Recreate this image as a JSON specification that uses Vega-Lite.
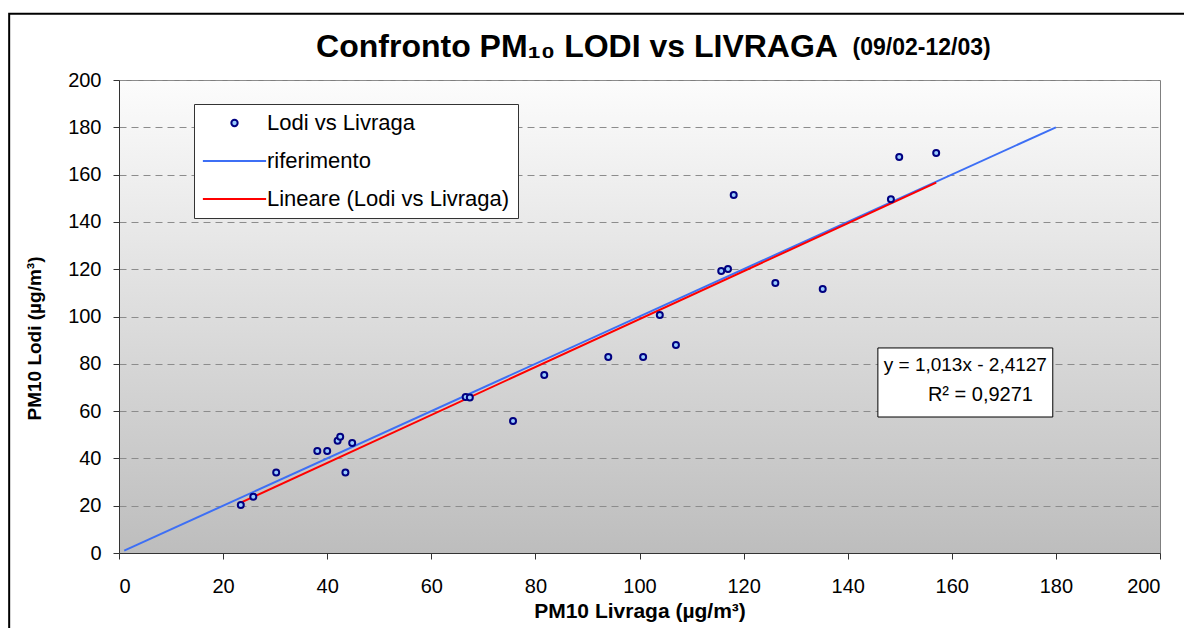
{
  "$schema": "https://vega.github.io/schema/vega-lite/v6.json",
  "width": 1041,
  "height": 473,
  "autosize": {"type": "none"},
  "padding": {"left": 119, "top": 80, "right": 24, "bottom": 75},
  "background": "white",
  "datasets": {
    "points": [
      {"livraga": 23.4, "lodi": 20.3, "series": "Lodi vs Livraga"},
      {"livraga": 25.8, "lodi": 23.8, "series": "Lodi vs Livraga"},
      {"livraga": 30.2, "lodi": 34.0, "series": "Lodi vs Livraga"},
      {"livraga": 38.1, "lodi": 43.1, "series": "Lodi vs Livraga"},
      {"livraga": 40.0, "lodi": 43.1, "series": "Lodi vs Livraga"},
      {"livraga": 42.0, "lodi": 47.5, "series": "Lodi vs Livraga"},
      {"livraga": 42.5, "lodi": 49.2, "series": "Lodi vs Livraga"},
      {"livraga": 44.8, "lodi": 46.5, "series": "Lodi vs Livraga"},
      {"livraga": 43.5, "lodi": 34.0, "series": "Lodi vs Livraga"},
      {"livraga": 66.6, "lodi": 66.0, "series": "Lodi vs Livraga"},
      {"livraga": 67.4, "lodi": 65.8, "series": "Lodi vs Livraga"},
      {"livraga": 75.7, "lodi": 55.8, "series": "Lodi vs Livraga"},
      {"livraga": 81.7, "lodi": 75.3, "series": "Lodi vs Livraga"},
      {"livraga": 94.0, "lodi": 82.9, "series": "Lodi vs Livraga"},
      {"livraga": 100.7, "lodi": 82.9, "series": "Lodi vs Livraga"},
      {"livraga": 103.9, "lodi": 100.6, "series": "Lodi vs Livraga"},
      {"livraga": 107.0, "lodi": 87.9, "series": "Lodi vs Livraga"},
      {"livraga": 115.7, "lodi": 119.2, "series": "Lodi vs Livraga"},
      {"livraga": 117.0, "lodi": 120.1, "series": "Lodi vs Livraga"},
      {"livraga": 118.1, "lodi": 151.4, "series": "Lodi vs Livraga"},
      {"livraga": 126.1, "lodi": 114.2, "series": "Lodi vs Livraga"},
      {"livraga": 135.2, "lodi": 111.6, "series": "Lodi vs Livraga"},
      {"livraga": 148.3, "lodi": 149.6, "series": "Lodi vs Livraga"},
      {"livraga": 149.9, "lodi": 167.4, "series": "Lodi vs Livraga"},
      {"livraga": 157.0, "lodi": 169.1, "series": "Lodi vs Livraga"}
    ],
    "reference": [
      {"livraga": 1, "lodi": 1, "series": "riferimento"},
      {"livraga": 180, "lodi": 180, "series": "riferimento"}
    ],
    "trend": [
      {"livraga": 23.4, "lodi": 21.29, "series": "Lineare (Lodi vs Livraga)"},
      {"livraga": 157.0, "lodi": 156.63, "series": "Lineare (Lodi vs Livraga)"}
    ]
  },
  "layer": [
    {
      "data": {"values": [{}]},
      "mark": {"type": "rect", "fill": null, "stroke": "black", "strokeWidth": 2},
      "encoding": {
        "x": {"datum": -21.1, "type": "quantitative"},
        "x2": {"datum": 215},
        "y": {"datum": 228, "type": "quantitative"},
        "y2": {"datum": -40}
      }
    },
    {
      "data": {"name": "reference"},
      "mark": {"type": "line", "strokeWidth": 2},
      "encoding": {
        "x": {"field": "livraga", "type": "quantitative"},
        "y": {"field": "lodi", "type": "quantitative"},
        "stroke": {"field": "series", "type": "nominal"}
      }
    },
    {
      "data": {"name": "trend"},
      "mark": {"type": "line", "strokeWidth": 2},
      "encoding": {
        "x": {"field": "livraga", "type": "quantitative"},
        "y": {"field": "lodi", "type": "quantitative"},
        "stroke": {"field": "series", "type": "nominal"}
      }
    },
    {
      "data": {"name": "points"},
      "mark": {"type": "point", "filled": false, "fill": "#99ccff", "fillOpacity": 1, "strokeWidth": 2, "size": 36, "opacity": 1},
      "encoding": {
        "x": {
          "field": "livraga", "type": "quantitative",
          "scale": {"domain": [0, 200], "nice": false, "zero": false},
          "axis": {
            "title": "PM10 Livraga (µg/m³)",
            "values": [0, 20, 40, 60, 80, 100, 120, 140, 160, 180, 200],
            "grid": false
          }
        },
        "y": {
          "field": "lodi", "type": "quantitative",
          "scale": {"domain": [0, 200], "nice": false, "zero": false},
          "axis": {
            "title": "PM10 Lodi (µg/m³)",
            "values": [0, 20, 40, 60, 80, 100, 120, 140, 160, 180, 200],
            "grid": true,
            "gridColor": "#8c8c8c",
            "gridDash": [7, 5],
            "gridWidth": 1,
            "titleY": 258
          }
        },
        "stroke": {
          "field": "series", "type": "nominal",
          "scale": {
            "domain": ["Lodi vs Livraga", "riferimento", "Lineare (Lodi vs Livraga)"],
            "range": ["#000080", "#3d6ff5", "#ff0000"]
          },
          "legend": {
            "title": null,
            "orient": "none",
            "legendX": 75,
            "legendY": 24,
            "fillColor": "white",
            "strokeColor": "#333333",
            "padding": 8,
            "labelFont": "Liberation Sans",
            "labelFontSize": 22,
            "labelColor": "black",
            "labelLimit": 0,
            "symbolSize": 40,
            "symbolStrokeWidth": 2,
            "symbolOffset": 21.5,
            "labelOffset": 21.5,
            "rowPadding": 16,
            "encode": {"symbols": {"update": {"fill": {"value": "#99ccff"}, "opacity": {"value": 1}}}}
          }
        },
        "shape": {
          "field": "series", "type": "nominal",
          "scale": {
            "domain": ["Lodi vs Livraga", "riferimento", "Lineare (Lodi vs Livraga)"],
            "range": ["circle", "M-10,0H10", "M-10,0H10"]
          },
          "legend": {
            "title": null,
            "orient": "none",
            "legendX": 75,
            "legendY": 24
          }
        }
      }
    },
    {
      "data": {"values": [{}]},
      "mark": {"type": "rect", "fill": "white", "stroke": "black", "strokeWidth": 1},
      "encoding": {
        "x": {"datum": 145.8, "type": "quantitative"},
        "x2": {"datum": 179.4},
        "y": {"datum": 86.7, "type": "quantitative"},
        "y2": {"datum": 57.5}
      }
    },
    {
      "data": {"values": [{"label": "y = 1,013x - 2,4127"}]},
      "mark": {"type": "text", "font": "Liberation Sans", "fontSize": 19, "color": "black", "align": "center", "baseline": "middle"},
      "encoding": {
        "x": {"datum": 162.6, "type": "quantitative"},
        "y": {"datum": 79.6, "type": "quantitative"},
        "text": {"field": "label"}
      }
    },
    {
      "data": {"values": [{"label": "R² = 0,9271"}]},
      "mark": {"type": "text", "font": "Liberation Sans", "fontSize": 20, "color": "black", "align": "center", "baseline": "middle"},
      "encoding": {
        "x": {"datum": 165.5, "type": "quantitative"},
        "y": {"datum": 67.0, "type": "quantitative"},
        "text": {"field": "label"}
      }
    },
    {
      "data": {"values": [{"label": "Confronto PM₁₀ LODI vs LIVRAGA"}]},
      "mark": {"type": "text", "font": "Liberation Sans", "fontSize": 32, "fontWeight": "bold", "color": "black", "align": "center", "baseline": "middle"},
      "encoding": {
        "x": {"datum": 88.0, "type": "quantitative"},
        "y": {"datum": 214.0, "type": "quantitative"},
        "text": {"field": "label"}
      }
    },
    {
      "data": {"values": [{"label": "(09/02-12/03)"}]},
      "mark": {"type": "text", "font": "Liberation Sans", "fontSize": 23, "fontWeight": "bold", "color": "black", "align": "center", "baseline": "middle"},
      "encoding": {
        "x": {"datum": 154.2, "type": "quantitative"},
        "y": {"datum": 213.5, "type": "quantitative"},
        "text": {"field": "label"}
      }
    }
  ],
  "config": {
    "view": {
      "fill": {
        "gradient": "linear", "x1": 0, "y1": 0, "x2": 0, "y2": 1,
        "stops": [{"offset": 0, "color": "#fcfcfc"}, {"offset": 1, "color": "#bdbdbd"}]
      },
      "stroke": "#7f7f7f",
      "strokeWidth": 1
    },
    "axis": {
      "labelFont": "Liberation Sans",
      "labelFontSize": 20,
      "labelColor": "black",
      "titleFont": "Liberation Sans",
      "titleFontSize": 19,
      "titleFontWeight": "bold",
      "titleColor": "black",
      "domainColor": "#333333",
      "tickColor": "#333333",
      "tickSize": 6
    },
    "axisX": {"labelPadding": 17, "titlePadding": 4, "titleFontSize": 21},
    "axisY": {"labelPadding": 12, "titlePadding": 23}
  }
}
